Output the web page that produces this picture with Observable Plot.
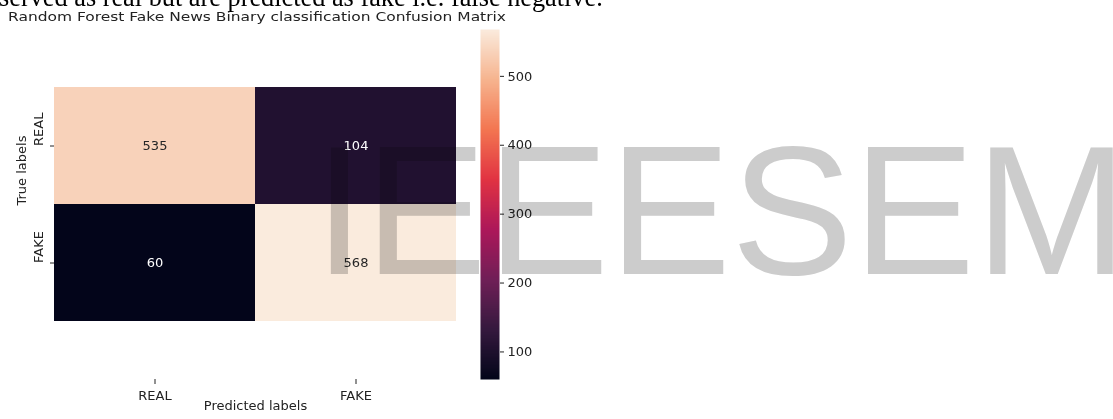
<!DOCTYPE html>
<html>
<head>
<meta charset="utf-8">
<script src="https://cdn.jsdelivr.net/npm/d3@7"></script>
<script src="https://cdn.jsdelivr.net/npm/@observablehq/plot@0.6"></script>
<style>
  html, body { margin: 0; padding: 0; background: #fff; }
  #wrap { position: relative; width: 1113px; height: 419px; overflow: hidden; background: #fff; }
  #wrap > * { position: absolute; }
</style>
</head>
<body>
<div id="wrap"></div>
<script>
// ---- data ----
const trueLabels = ["REAL", "FAKE"];
const predLabels = ["REAL", "FAKE"];
const counts = [
  [535, 104],
  [60, 568]
];
const colorbarTicks = [100, 200, 300, 400, 500];
const titleText = "Random Forest Fake News Binary classification Confusion Matrix";
const xLabel = "Predicted labels";
const yLabel = "True labels";
const pageText = "served as real but are predicted as fake i.e. false negative.";
const watermarkText = "IEEESEM";
// rocket colormap stops
const rocketStops = [0, 1/7, 2/7, 3/7, 4/7, 5/7, 6/7, 1];
const rocketColors = ["#03051a", "#35193e", "#701f57", "#ad1759", "#e13342", "#f37651", "#f6b48f", "#faebdd"];

const cells = [];
trueLabels.forEach((t, i) => predLabels.forEach((p, j) => cells.push({true: t, pred: p, value: counts[i][j]})));
const vmin = d3.min(cells, d => d.value), vmax = d3.max(cells, d => d.value);
const colorScale = {
  type: "linear",
  domain: rocketStops.map(s => vmin + s * (vmax - vmin)),
  range: rocketColors,
  interpolate: "rgb"
};
const font = {fontFamily: "DejaVu Sans", fontSize: "13px", background: "transparent", color: "#222"};
const wrap = document.getElementById("wrap");

// background texts (page fragment + title)
const back = d3.create("svg").attr("width", 1113).attr("height", 419).style("left", "0px").style("top", "0px");
back.append("text").attr("x", -1).attr("y", 6).attr("font-family", "Liberation Serif").attr("font-size", 26.3).attr("fill", "#000").text(pageText);
back.append("text").attr("x", 8).attr("y", 21).attr("font-family", "DejaVu Sans").attr("font-size", 12.5)
  .attr("textLength", 498).attr("lengthAdjust", "spacingAndGlyphs").attr("fill", "#222").text(titleText);
wrap.appendChild(back.node());

// main heatmap
const main = Plot.plot({
  width: 470, height: 419,
  marginLeft: 54, marginRight: 14, marginTop: 87, marginBottom: 40,
  style: font,
  x: {type: "band", domain: predLabels, padding: 0, label: null},
  y: {type: "band", domain: trueLabels, range: [87, 321], padding: 0, label: null},
  color: colorScale,
  marks: [
    Plot.cell(cells, {x: "pred", y: "true", fill: "value", inset: 0}),
    Plot.text(cells.filter(d => d.value > 300), {x: "pred", y: "true", text: d => String(d.value), fill: "#262626", fontSize: 13}),
    Plot.text(cells.filter(d => d.value <= 300), {x: "pred", y: "true", text: d => String(d.value), fill: "white", fontSize: 13}),
    Plot.axisY({tickSize: 4, tickFormat: () => "", label: null}),
    Plot.text(trueLabels, {y: d => d, frameAnchor: "left", dx: -16, rotate: -90, fill: "#222", fontSize: 13}),
    Plot.text([yLabel], {frameAnchor: "left", dx: -33, dy: -28, rotate: -90, fill: "#222", fontSize: 13}),
    Plot.axisX({tickSize: 5, tickPadding: 6, label: null}),
    Plot.text([xLabel], {frameAnchor: "bottom", dy: 30, fill: "#222", fontSize: 13})
  ]
});
main.style.left = "0px"; main.style.top = "0px";
wrap.appendChild(main);

// colorbar
const cbar = Plot.plot({
  width: 90, height: 419,
  marginLeft: 10, marginRight: 61, marginTop: 29, marginBottom: 40,
  style: font,
  x: {domain: [0, 1], axis: null},
  y: {domain: [vmin, vmax], label: null},
  color: colorScale,
  marks: [
    Plot.raster({x1: 0, x2: 1, y1: vmin, y2: vmax, width: 1, height: 256, fill: (x, y) => y, imageRendering: "auto"}),
    Plot.axisY({anchor: "right", ticks: colorbarTicks, tickSize: 4, tickPadding: 4, label: null})
  ]
});
cbar.style.left = "470px"; cbar.style.top = "0px";
wrap.appendChild(cbar);

// watermark
const wm = d3.create("svg").attr("width", 1113).attr("height", 419).style("left", "0px").style("top", "0px").style("mix-blend-mode", "multiply").style("pointer-events", "none");
wm.append("text").attr("x", 314).attr("y", 274).attr("font-family", "Liberation Sans").attr("font-size", 183).attr("fill", "#cccccc").text(watermarkText);
wrap.appendChild(wm.node());
</script>
</body>
</html>
